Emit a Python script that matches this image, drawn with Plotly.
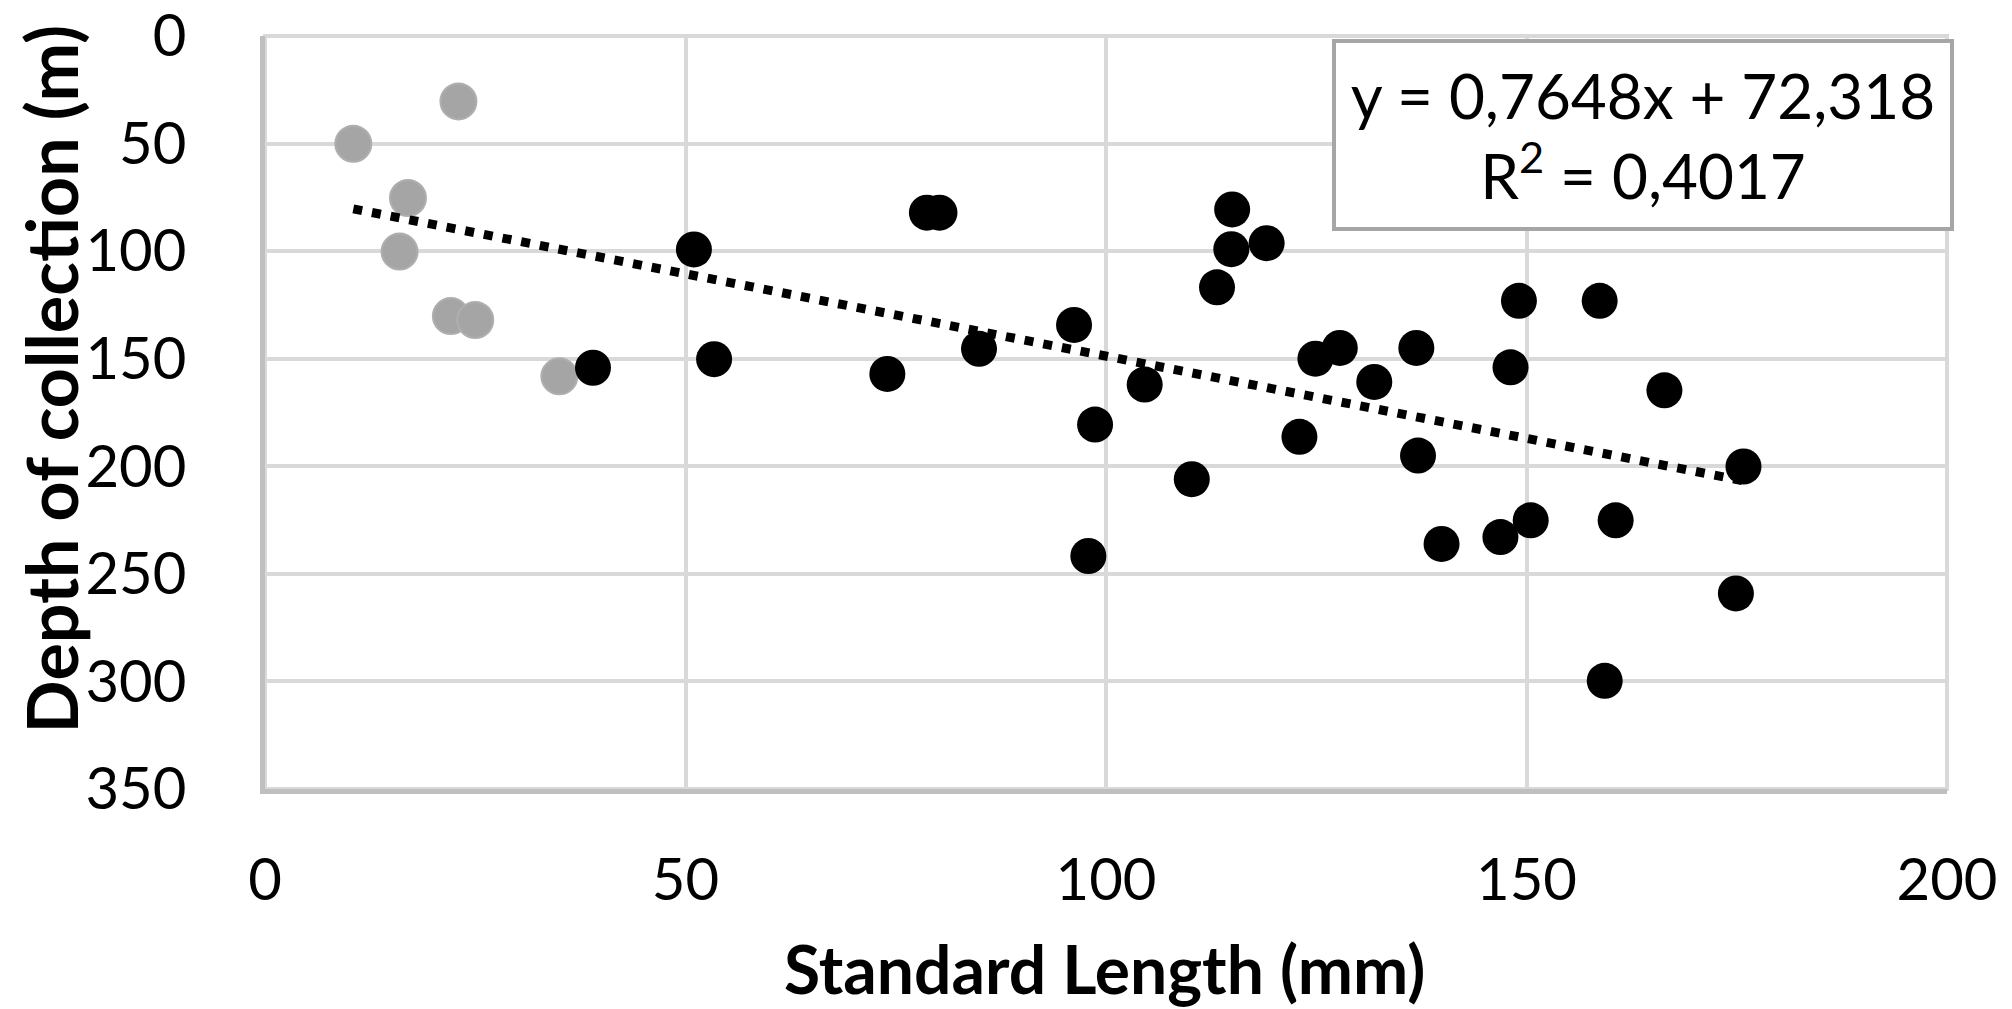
import plotly.graph_objects as go

# Data
gray_length = [10.5, 23.0, 17.0, 16.0, 22.1, 25.0, 35.0]
gray_depth = [50.1, 30.4, 75.3, 100.2, 130.2, 132.0, 158.2]

black_length = [39.0, 51.0, 53.4, 74.0, 78.7, 80.2, 84.9, 96.2, 98.7, 97.9,
                104.6, 110.2, 113.2, 115.0, 114.9, 119.1, 123.0, 124.9, 127.8,
                131.9, 136.9, 137.1, 139.9, 146.9, 148.1, 149.1, 150.5, 158.7,
                159.3, 160.6, 166.4, 174.9, 175.8]
black_depth = [154.2, 99.2, 150.2, 157.1, 82.1, 82.1, 145.4, 134.3, 180.6, 241.7,
               162.0, 206.0, 116.8, 80.6, 99.1, 96.3, 186.3, 150.0, 145.0,
               160.8, 145.0, 195.0, 236.1, 232.9, 154.0, 123.1, 225.1, 123.1,
               299.7, 225.1, 164.7, 259.1, 200.1]

slope = 0.7648
intercept = 72.318
r_squared = 0.4017

x_ticks = [0, 50, 100, 150, 200]
y_ticks = [0, 50, 100, 150, 200, 250, 300, 350]

x_title = "Standard Length (mm)"
y_title = "Depth of collection (m)"

all_x = gray_length + black_length
trend_x = [min(all_x), max(all_x)]
trend_y = [slope * v + intercept for v in trend_x]

FONT = "Lato"

fig = go.Figure()
fig.add_trace(go.Scatter(
    x=gray_length, y=gray_depth, mode="markers",
    marker=dict(size=36, color="#a5a5a5", line=dict(color="#afafaf", width=2)),
    showlegend=False))
fig.add_trace(go.Scatter(
    x=black_length, y=black_depth, mode="markers",
    marker=dict(size=36, color="#000000", line=dict(width=0)),
    showlegend=False))
fig.add_trace(go.Scatter(
    x=trend_x, y=trend_y, mode="lines",
    line=dict(color="#000000", width=9, dash="9px,10px"),
    showlegend=False))

def fmt(v, nd):
    return f"{v:.{nd}f}".replace(".", ",")

eq_text = f"y = {fmt(slope, 4)}x + {fmt(intercept, 3)}<br>R<sup>2</sup> = {fmt(r_squared, 4)}"

fig.add_annotation(
    x=0.819, y=0.8685, xref="paper", yref="paper",
    xanchor="center", yanchor="middle",
    text=eq_text, showarrow=False, align="center",
    font=dict(family=FONT, size=62, color="#000000"),
    bgcolor="#ffffff", bordercolor="#a6a6a6", borderwidth=4,
    width=612, height=182)

# axis titles as annotations for exact placement
fig.add_annotation(
    x=0.4994, y=-0.239, xref="paper", yref="paper",
    xanchor="center", yanchor="middle", showarrow=False,
    text=f"<b>{x_title}</b>",
    font=dict(family=FONT, size=66, color="#000000"))
fig.add_annotation(
    x=-0.127, y=0.5445, xref="paper", yref="paper",
    xanchor="center", yanchor="middle", showarrow=False, textangle=-90,
    text=f"<b>{y_title}</b>",
    font=dict(family=FONT, size=70, color="#000000"))

fig.add_shape(type="rect", xref="paper", yref="paper", x0=0, x1=1, y0=0, y1=1,
              line=dict(color="#d9d9d9", width=4), layer="below")

# page body has an 8px margin: figure is sized/offset to compensate
fig.update_layout(
    width=2004, height=1001,
    margin=dict(l=257, r=65, t=28, b=220, autoexpand=False),
    paper_bgcolor="#ffffff", plot_bgcolor="#ffffff",
    font=dict(family=FONT, color="#000000"),
    xaxis=dict(
        range=[0, 200], tickvals=x_ticks, ticktext=[str(v) for v in x_ticks],
        showgrid=True, gridcolor="#d9d9d9", gridwidth=4, automargin=False,
        zeroline=False, showline=True, linecolor="#bfbfbf", linewidth=5,
        ticks="", ticklabelstandoff=36, ticklabeloverflow="allow",
        tickfont=dict(family=FONT, size=58, color="#000000")),
    yaxis=dict(
        range=[350, 0], tickvals=y_ticks, ticktext=[str(v) for v in y_ticks],
        showgrid=True, gridcolor="#d9d9d9", gridwidth=4, automargin=False,
        zeroline=False, showline=True, linecolor="#bfbfbf", linewidth=5,
        ticks="", ticklabelstandoff=62, ticklabeloverflow="allow",
        tickfont=dict(family=FONT, size=58, color="#000000")),
)

fig.write_html("out.html")
